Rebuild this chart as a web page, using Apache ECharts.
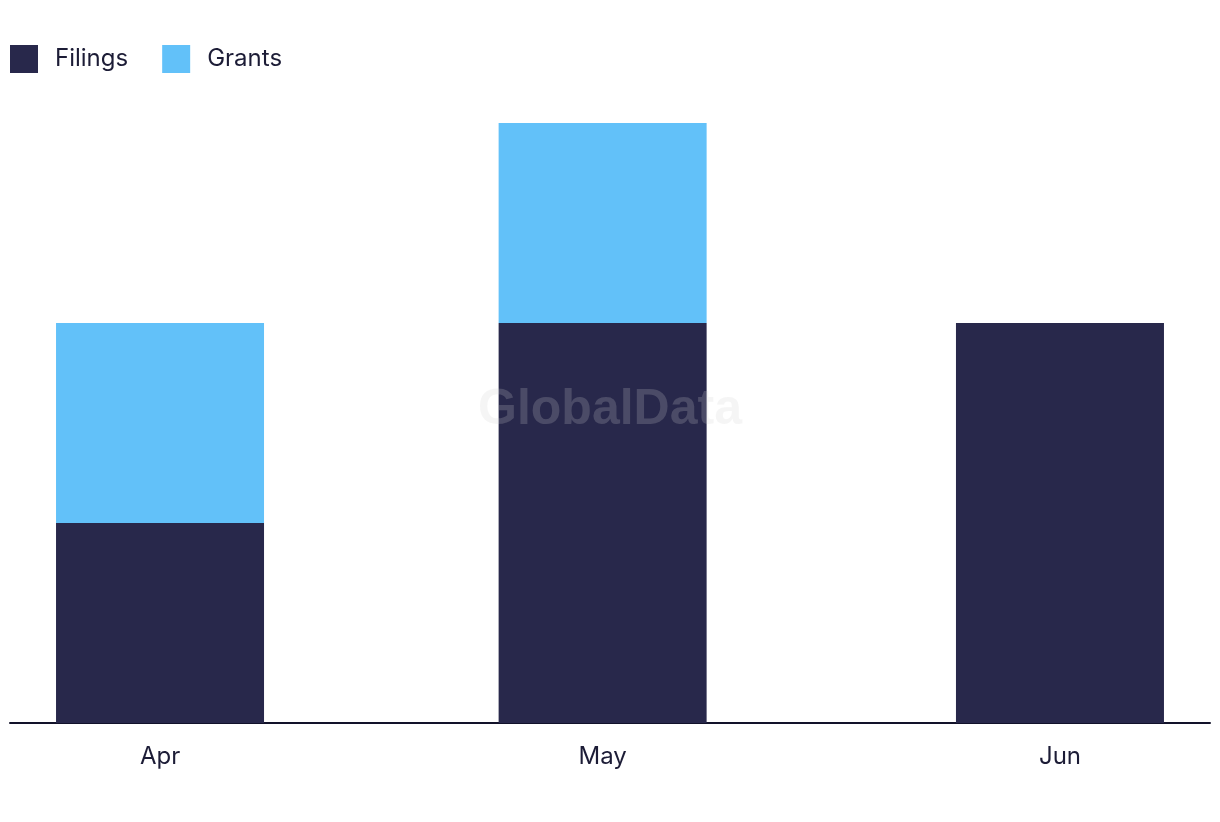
<!DOCTYPE html>
<html>
<head>
<meta charset="utf-8">
<script src="https://cdn.jsdelivr.net/npm/echarts@6/dist/echarts.min.js"></script>
<style>html,body{margin:0;padding:0;background:#fff;}#chart{width:1220px;height:822px;}</style>
</head>
<body>
<div id="chart"></div>
<script>
const categories = ['Apr', 'May', 'Jun'];
const dates = ['2024-04-01', '2024-05-01', '2024-06-01'];
const filings = [1, 2, 2];
const grants = [1, 1, 0];

function toLocalTs(s) {
  const p = s.split('-').map(Number);
  return new Date(p[0], p[1] - 1, p[2]).getTime();
}
const ts = dates.map(toLocalTs);
const DAY = 86400000;
// ECharts widens a time axis by the bar overflow; this pad yields ~10 days of visual margin
const pad = 3.12 * DAY;
const textColor = '#1c1c36';
const font = 'Inter, "Noto Sans", sans-serif';

const chart = echarts.init(document.getElementById('chart'), null, { renderer: 'canvas' });
chart.setOption({
  animation: false,
  legend: {
    left: 5, top: 40, itemWidth: 28, itemHeight: 28, itemGap: 34,
    icon: 'rect',
    textStyle: { color: textColor, fontSize: 24, fontFamily: font, padding: [0, 0, 0, 12] },
    data: ['Filings', 'Grants']
  },
  grid: { left: 10, right: 10, top: 123, bottom: 99, containLabel: false },
  xAxis: {
    type: 'time',
    min: ts[0] - pad,
    max: ts[ts.length - 1] + pad,
    minInterval: 28 * DAY,
    maxInterval: 31 * DAY,
    axisLine: { show: true, onZero: false, lineStyle: { color: '#12122a', width: 2 } },
    axisTick: { show: false },
    splitLine: { show: false },
    axisLabel: {
      showMinLabel: false, showMaxLabel: false,
      margin: 22,
      color: textColor, fontSize: 24, fontFamily: font,
      formatter: function (v) {
        const i = ts.indexOf(v);
        return i >= 0 ? categories[i] : '';
      }
    }
  },
  yAxis: { type: 'value', min: 0, max: 3, show: false, splitLine: { show: false } },
  graphic: [{
    type: 'text', left: 'center', top: 385, z: 100,
    style: { text: 'GlobalData', font: 'bold 50px "Liberation Sans", Arial, sans-serif', fill: 'rgba(207,207,207,0.21)' }
  }],
  series: [
    { name: 'Filings', type: 'bar', stack: 'total', barWidth: 208, itemStyle: { color: '#28284b' },
      data: ts.map((t, i) => [t, filings[i]]) },
    { name: 'Grants', type: 'bar', stack: 'total', barWidth: 208, itemStyle: { color: '#62c1f9' },
      data: ts.map((t, i) => [t, grants[i]]) }
  ]
});
</script>
</body>
</html>
